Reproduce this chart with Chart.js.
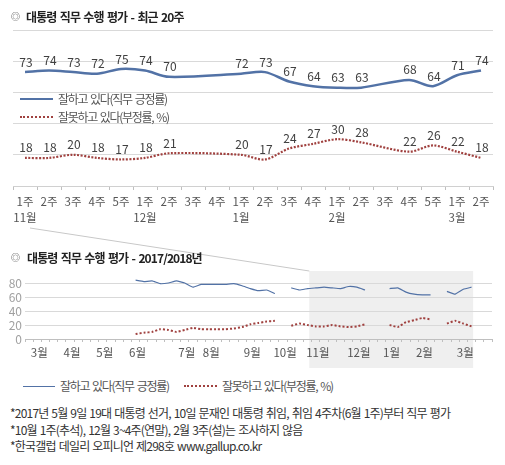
<!DOCTYPE html>
<html>
<head>
<meta charset="utf-8">
<script src="https://cdn.jsdelivr.net/npm/chart.js@4"></script>
<style>
  body { margin: 0; background: #fff; }
  #wrap { position: relative; width: 505px; height: 465px; overflow: hidden;
          font-family: "Noto Sans CJK KR", sans-serif; color: #333; }
  #wrap canvas { position: absolute; left: 0; }
  .t { position: absolute; white-space: nowrap; line-height: 16px; font-size: 12px;
       letter-spacing: -0.8px; word-spacing: 1px; }
  .title { font-weight: bold; color: #222; letter-spacing: -0.9px; word-spacing: 1.5px; }
  .sym { font-size: 9px; letter-spacing: 0; color: #333; }
  .leg { color: #555; letter-spacing: -1.3px; word-spacing: 1.5px; }
  .swatch { position: absolute; height: 0; }
</style>
</head>
<body>
<div id="wrap">
  <canvas id="recent" width="505" height="226" style="top:0"></canvas>
  <canvas id="yearly" width="505" height="146" style="top:226px"></canvas>

  <div class="t sym" style="left:11px;top:9px">◎</div>
  <div class="t title" style="left:26px;top:8.5px">대통령 직무 수행 평가 - 최근 20주</div>

  <div class="swatch" style="left:20px;top:98px;width:33px;border-top:2.5px solid #5272a6"></div>
  <div class="t leg" style="left:58px;top:90.5px">잘하고 있다(직무 긍정률)</div>
  <div class="swatch" style="left:20px;top:116px;width:33px;border-top:2px dotted #a0413f"></div>
  <div class="t leg" style="left:58px;top:108.5px">잘못하고 있다(부정률, %)</div>

  <div class="t sym" style="left:11px;top:250px">◎</div>
  <div class="t title" style="left:27px;top:249.5px">대통령 직무 수행 평가 - 2017/2018년</div>

  <div class="swatch" style="left:23px;top:386px;width:32px;border-top:1px solid #5272a6"></div>
  <div class="t leg" style="left:60px;top:377.5px">잘하고 있다(직무 긍정률)</div>
  <div class="swatch" style="left:184px;top:385px;width:33px;border-top:2px dotted #a0413f"></div>
  <div class="t leg" style="left:222px;top:377.5px">잘못하고 있다(부정률, %)</div>

  <div class="t" style="left:10px;top:404.5px">*2017년 5월 9일 19대 대통령 선거, 10일 문재인 대통령 취임, 취임 4주차(6월 1주)부터 직무 평가</div>
  <div class="t" style="left:10px;top:421.5px">*10월 1주(추석), 12월 3~4주(연말), 2월 3주(설)는 조사하지 않음</div>
  <div class="t" style="left:10px;top:437.5px">*한국갤럽 데일리 오피니언 제298호 www.gallup.co.kr</div>
</div>

<script>
// 최근 20주 (2017.11 1주 ~ 2018.3 2주)
const weekLabels = ["1주", "2주", "3주", "4주", "5주", "1주", "2주", "3주", "4주", "1주",
                    "2주", "3주", "4주", "1주", "2주", "3주", "4주", "5주", "1주", "2주"];
const monthLabels = ["11월", "", "", "", "", "12월", "", "", "", "1월",
                     "", "", "", "2월", "", "", "", "", "3월", ""];
const approveRecent = [73, 74, 73, 72, 75, 74, 70, null, null, 72, 73, 67, 64, 63, 63, null, 68, 64, 71, 74];
const disapproveRecent = [18, 18, 20, 18, 17, 18, 21, null, null, 20, 17, 24, 27, 30, 28, null, 22, 26, 22, 18];

// 2017/2018 weekly (2017.3 ~ 2018.3), 6월 1주부터 조사
const yearlyTicks = [
  "", "3월", "", "", "",
  "4월", "", "", "",
  "5월", "", "", "",
  "6월", "", "", "", "", "",
  "7월", "", "",
  "8월", "", "", "", "",
  "9월", "", "", "",
  "10월", "", "", "",
  "11월", "", "", "", "",
  "12월", "", "", "",
  "1월", "", "", "",
  "2월", "", "", "", "",
  "3월", "", "", ""
];
const weeksBeforeTerm = 13;
// 6월 1주 ~ 10월 4주 (10월 1주 추석 미조사)
const approveEarlier = [84, 82, 83, 79, 80, 83, 80, 74, 78, 78, 78, 78, 79, 76, 72, 69, 70, 65, null, 73, 70, 72];
const disapproveEarlier = [7, 9, 10, 14, 13, 10, 13, 16, 14, 14, 14, 14, 15, 17, 21, 23, 25, 26, null, 19, 22, 20];
const weeksAfter = 2;

const approveYearly = [...Array(weeksBeforeTerm).fill(null), ...approveEarlier, ...approveRecent, ...Array(weeksAfter).fill(null)];
const disapproveYearly = [...Array(weeksBeforeTerm).fill(null), ...disapproveEarlier, ...disapproveRecent, ...Array(weeksAfter).fill(null)];
const recentStart = weeksBeforeTerm + approveEarlier.length;
const recentEnd = recentStart + approveRecent.length - 1;

const blue = "#5272a6";
const red = "#a0413f";
const font = "'Noto Sans CJK KR', sans-serif";

const valueLabels = {
  id: "valueLabels",
  afterDatasetsDraw(chart) {
    const ctx = chart.ctx;
    ctx.save();
    ctx.font = "12px " + font;
    ctx.fillStyle = "#404040";
    ctx.textAlign = "center";
    ctx.textBaseline = "middle";
    chart.data.datasets.forEach((ds, i) => {
      chart.getDatasetMeta(i).data.forEach((pt, j) => {
        if (ds.data[j] == null) return;
        ctx.fillText(ds.data[j], pt.x + 1, pt.y - 10);
      });
    });
    ctx.restore();
  }
};

new Chart(document.getElementById("recent"), {
  type: "line",
  data: {
    labels: weekLabels.map((w, i) => monthLabels[i] ? [w, monthLabels[i]] : w),
    datasets: [
      { data: approveRecent, borderColor: blue, borderWidth: 2.5, tension: 0.3, spanGaps: true, pointRadius: 0 },
      { data: disapproveRecent, borderColor: red, borderWidth: 2.2, borderDash: [2, 1.5], tension: 0.3, spanGaps: true, pointRadius: 0 }
    ]
  },
  options: {
    responsive: false,
    animation: false,
    layout: { padding: { top: 30, left: 13, right: 12, bottom: 0 }, autoPadding: false },
    plugins: { legend: { display: false }, tooltip: { enabled: false } },
    scales: {
      x: {
        offset: true,
        grid: { offset: true, drawOnChartArea: false, tickLength: 4, color: "#bfbfbf" },
        border: { color: "#d0d0d0" },
        ticks: { autoSkip: false, maxRotation: 0, padding: 3, color: "#555",
                 font: { family: font, size: 11.5, lineHeight: 1.45 } },
        afterFit: (s) => { s.height = 40; }
      },
      y: {
        min: 0, max: 100,
        ticks: { stepSize: 20, display: false },
        grid: { drawTicks: false, color: "#d9d9d9" },
        border: { display: false },
        afterFit: (s) => { s.width = 0; }
      }
    }
  },
  plugins: [valueLabels]
});

const zoomBox = {
  id: "zoomBox",
  beforeDraw(chart) {
    const ctx = chart.ctx;
    const xs = chart.scales.x;
    const w = xs.getPixelForValue(1) - xs.getPixelForValue(0);
    const left = xs.getPixelForValue(recentStart) - w * 0.8;
    const right = xs.getPixelForValue(recentEnd) + w * 0.2;
    const top = chart.chartArea.top + 2;
    const bottom = chart.chartArea.bottom + 29;
    ctx.save();
    ctx.fillStyle = "#efefef";
    ctx.fillRect(left, top, right - left, bottom - top);
    ctx.strokeStyle = "#c8c8c8";
    ctx.lineWidth = 1;
    ctx.beginPath();
    ctx.moveTo(30, 2);
    ctx.lineTo(left, top);
    ctx.stroke();
    ctx.restore();
  }
};

new Chart(document.getElementById("yearly"), {
  type: "line",
  data: {
    labels: yearlyTicks,
    datasets: [
      { data: approveYearly, borderColor: blue, borderWidth: 1.2, tension: 0.1, spanGaps: false, pointRadius: 0 },
      { data: disapproveYearly, borderColor: red, borderWidth: 2, borderDash: [2, 2], tension: 0.1, spanGaps: false, pointRadius: 0 }
    ]
  },
  options: {
    responsive: false,
    animation: false,
    layout: { padding: { top: 43, left: 0, right: 13, bottom: 0 }, autoPadding: false },
    plugins: { legend: { display: false }, tooltip: { enabled: false } },
    scales: {
      x: {
        offset: true,
        grid: { offset: true, drawOnChartArea: false, tickLength: 3, color: "#bfbfbf" },
        border: { color: "#bfbfbf" },
        ticks: { autoSkip: false, maxRotation: 0, padding: 4, labelOffset: 2, color: "#555",
                 font: { family: font, size: 11.5 } },
        afterFit: (s) => { s.height = 33; }
      },
      y: {
        min: 0, max: 100,
        ticks: { stepSize: 20, autoSkip: false, padding: 3, color: "#a0a0a0", font: { family: font, size: 12 },
                 callback: (v) => v === 100 ? "" : v },
        grid: { drawTicks: false, color: (c) => c.tick && c.tick.value === 100 ? "rgba(0,0,0,0)" : "#d9d9d9" },
        border: { display: false },
        afterFit: (s) => { s.width = 25; }
      }
    }
  },
  plugins: [zoomBox]
});
</script>
</body>
</html>
